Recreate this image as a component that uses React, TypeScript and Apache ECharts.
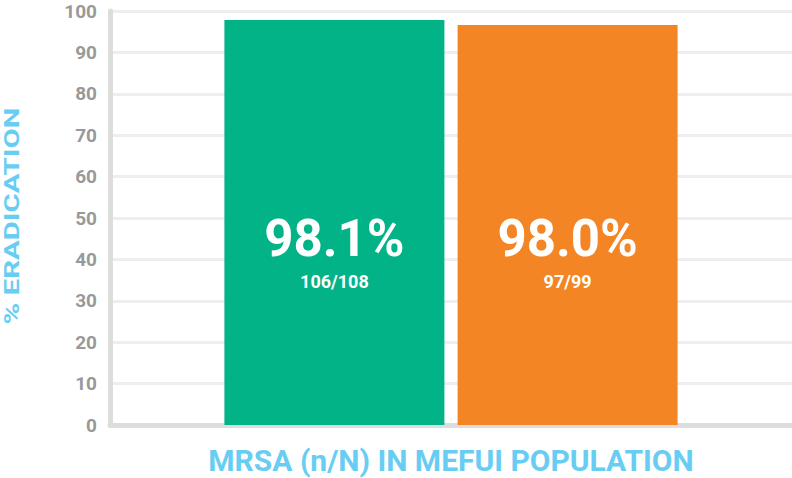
import { useEffect, useRef } from 'react'
import * as echarts from 'echarts'

const categories = ['MRSA']
const seriesNames = ['Group A', 'Group B']
const barValues = [97.8, 96.6]
const pctLabels = ['98.1%', '98.0%']
const countLabels = ['106/108', '97/99']
const barColors = ['#02b388', '#f48524']

const yTitle = '% ERADICATION'
const xTitle = 'MRSA (n/N) IN MEFUI POPULATION'
const blue = '#68cdf3'

export default function App() {
  const chartRef = useRef<HTMLDivElement>(null)

  useEffect(() => {
    if (!chartRef.current) return
    const chart = echarts.init(chartRef.current, undefined, { renderer: 'svg' })

    const option: echarts.EChartsOption = {
      animation: false,
      textStyle: { fontFamily: 'Roboto' },
      grid: { left: 110, right: 0, top: 11, bottom: 53 },
      xAxis: {
        type: 'category',
        data: categories,
        axisLine: { show: true, lineStyle: { color: '#dddddd', width: 5 } },
        axisTick: { show: false },
        axisLabel: { show: false },
      },
      yAxis: {
        type: 'value',
        min: 0,
        max: 100,
        interval: 10,
        axisLine: { show: true, lineStyle: { color: '#dddddd', width: 5 } },
        axisTick: { show: false },
        splitLine: { lineStyle: { color: '#eeeeee', width: 3 } },
        axisLabel: {
          color: '#999999',
          fontSize: 19,
          fontWeight: 'bold',
          fontFamily: 'Roboto',
          margin: 13,
        },
      },
      series: seriesNames.map((name, i) => ({
        name,
        type: 'bar' as const,
        data: [barValues[i]],
        barWidth: 220,
        barGap: '6%',
        itemStyle: { color: barColors[i] },
        label: {
          show: true,
          position: 'insideBottom' as const,
          distance: 129,
          formatter: `{a|${pctLabels[i]}}\n{b|${countLabels[i]}}`,
          rich: {
            a: {
              color: '#ffffff',
              fontSize: 51,
              fontWeight: 'bold',
              fontFamily: 'Roboto',
              lineHeight: 56,
            },
            b: {
              color: '#ffffff',
              fontSize: 18,
              fontWeight: 'bold',
              fontFamily: 'Roboto',
              lineHeight: 30,
            },
          },
        },
      })),
      graphic: [
        {
          type: 'text',
          x: 12,
          y: 216,
          rotation: Math.PI / 2,
          scaleX: 1.4,
          style: {
            text: yTitle,
            fill: blue,
            font: 'bold 21px Roboto',
            align: 'center',
            verticalAlign: 'middle',
          },
        },
        {
          type: 'text',
          x: 451,
          y: 460,
          style: {
            text: xTitle,
            fill: blue,
            font: 'bold 30px Roboto',
            align: 'center',
            verticalAlign: 'middle',
          },
        },
      ],
    }

    chart.setOption(option)
    return () => {
      chart.dispose()
    }
  }, [])

  return (
    <div
      ref={chartRef}
      style={{ position: 'absolute', left: 0, top: 0, width: 792, height: 478, background: '#ffffff' }}
    />
  )
}
